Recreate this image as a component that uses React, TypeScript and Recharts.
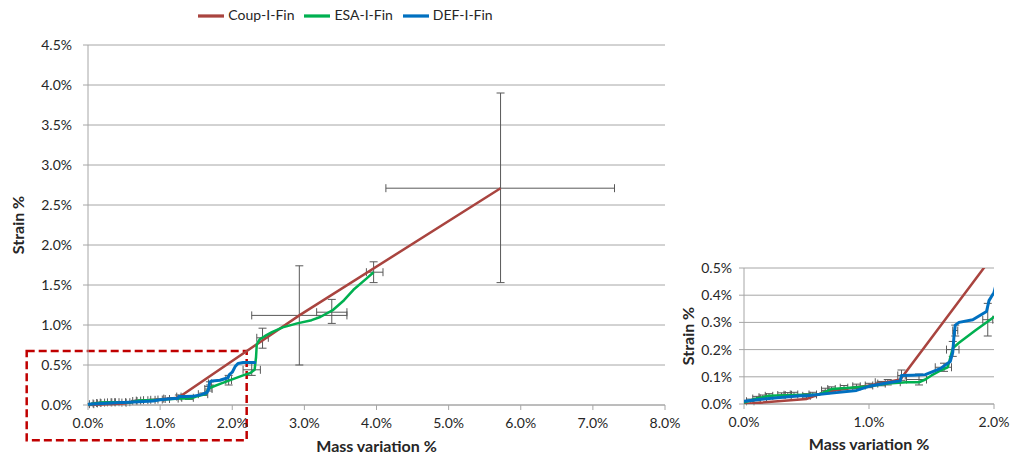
import { ScatterChart, Scatter, XAxis, YAxis, CartesianGrid, Legend, ErrorBar, ReferenceArea } from 'recharts';

// values are in percent (2.93 means 2.93 %)
const COUP_X = [0, 0.5, 0.65, 1.0, 1.25, 2.93, 5.72];
const COUP_Y = [0, 0.018, 0.045, 0.068, 0.09, 1.12, 2.71];

const ESA_X = [0, 0.1, 0.2, 0.4, 0.6, 0.7, 0.85, 1.0, 1.15, 1.3, 1.4, 1.45, 1.5, 1.58, 1.63, 1.65, 1.67, 1.72, 1.85, 2.0, 2.15, 2.25, 2.31, 2.33, 2.34, 2.38, 2.45, 2.55, 2.7, 2.9, 3.1, 3.22, 3.4, 3.55, 3.68, 3.86, 3.96];
const ESA_Y = [0.005, 0.02, 0.03, 0.033, 0.035, 0.055, 0.06, 0.065, 0.075, 0.08, 0.08, 0.09, 0.105, 0.125, 0.135, 0.17, 0.205, 0.225, 0.27, 0.32, 0.37, 0.4, 0.44, 0.6, 0.76, 0.82, 0.86, 0.91, 0.97, 1.02, 1.06, 1.1, 1.19, 1.31, 1.44, 1.58, 1.66];

const DEF_X = [0, 0.2, 0.45, 0.5, 0.7, 0.9, 1.0, 1.14, 1.25, 1.26, 1.35, 1.45, 1.57, 1.65, 1.67, 1.68, 1.69, 1.72, 1.83, 1.94, 1.96, 2.0, 2.04, 2.08, 2.15, 2.33];
const DEF_Y = [0.01, 0.02, 0.03, 0.03, 0.04, 0.05, 0.065, 0.077, 0.085, 0.105, 0.106, 0.108, 0.13, 0.156, 0.19, 0.25, 0.29, 0.3, 0.31, 0.34, 0.38, 0.41, 0.48, 0.52, 0.53, 0.53];

// error bars: [x, y, xLow, xHigh, yLow, yHigh]
const ERRORS: number[][] = [
  [2.93, 1.12, 0.66, 0.66, 0.62, 0.62],
  [5.72, 2.71, 1.59, 1.58, 1.18, 1.19],
  [3.38, 1.16, 0.21, 0.21, 0.14, 0.16],
  [3.96, 1.66, 0.1, 0.13, 0.13, 0.13],
  [2.42, 0.84, 0.08, 0.08, 0.13, 0.12],
  [2.27, 0.44, 0.12, 0.12, 0.07, 0.08],
  [1.95, 0.31, 0.04, 0.04, 0.06, 0.06],
  [1.67, 0.2, 0.05, 0.05, 0.025, 0.03],
  [1.69, 0.27, 0.02, 0.02, 0.02, 0.02],
  [1.6, 0.135, 0.07, 0.06, 0.015, 0.015],
  [1.4, 0.09, 0.1, 0.06, 0.02, 0.02],
  [1.26, 0.105, 0.03, 0.03, 0.018, 0.02],
  [1.15, 0.08, 0.1, 0.1, 0.01, 0.01],
  [0.05, 0.01, 0.03, 0.03, 0.008, 0.008],
  [0.1, 0.02, 0.03, 0.03, 0.008, 0.008],
  [0.15, 0.025, 0.03, 0.03, 0.008, 0.008],
  [0.2, 0.03, 0.03, 0.03, 0.008, 0.008],
  [0.3, 0.033, 0.03, 0.03, 0.008, 0.008],
  [0.35, 0.034, 0.03, 0.03, 0.008, 0.008],
  [0.4, 0.035, 0.03, 0.03, 0.008, 0.008],
  [0.5, 0.03, 0.03, 0.03, 0.008, 0.008],
  [0.55, 0.035, 0.03, 0.03, 0.008, 0.008],
  [0.65, 0.05, 0.03, 0.03, 0.008, 0.008],
  [0.7, 0.055, 0.03, 0.03, 0.008, 0.008],
  [0.8, 0.06, 0.03, 0.03, 0.008, 0.008],
  [0.9, 0.065, 0.03, 0.03, 0.008, 0.008],
  [1.0, 0.068, 0.03, 0.03, 0.008, 0.008],
  [1.1, 0.075, 0.03, 0.03, 0.008, 0.008],
];

const LEGEND_ORDER = ['Coup-I-Fin', 'ESA-I-Fin', 'DEF-I-Fin'];
const MAIN_X_TICKS = [0, 1, 2, 3, 4, 5, 6, 7, 8];
const MAIN_Y_TICKS = [0, 0.5, 1, 1.5, 2, 2.5, 3, 3.5, 4, 4.5];
const ZOOM_X_TICKS = [0, 1, 2];
const ZOOM_Y_TICKS = [0, 0.1, 0.2, 0.3, 0.4, 0.5];

// dashed box marking the zoomed region
const BOX_X = [-0.85, 2.2];
const BOX_Y = [-0.44, 0.675];

const RED = '#a9443f';
const GREEN = '#00b050';
const BLUE = '#0070c0';
const GRID = '#a6a6a6';
const TEXT = '#262626';
const FONT = 'Lato, "Open Sans", sans-serif';

const toPoints = (xs: number[], ys: number[]) => xs.map((x, i) => ({ x, y: ys[i] }));
const coup = toPoints(COUP_X, COUP_Y);
const esa = toPoints(ESA_X, ESA_Y);
const def = toPoints(DEF_X, DEF_Y);
const errs = ERRORS.map(([x, y, xl, xh, yl, yh]) => ({ x, y, ex: [xl, xh], ey: [yl, yh] }));
// error bars are not clipped, so the zoom only gets the ones inside its range
const zoomErrs = errs.filter((e) => e.x + e.ex[1] <= 2 && e.y + e.ey[1] <= 0.5);

const pct = (v: number) => `${v.toFixed(1)}%`;
const NoDot = () => <g />;

function renderSeries(errData: any[]) {
  return [
    <Scatter key="coup" name="Coup-I-Fin" data={coup} fill={RED} line={{ stroke: RED, strokeWidth: 2.5 }} lineType="joint" shape={NoDot} legendType="plainline" isAnimationActive={false} />,
    <Scatter key="esa" name="ESA-I-Fin" data={esa} fill={GREEN} line={{ stroke: GREEN, strokeWidth: 2.5, strokeLinejoin: 'round' }} lineType="joint" shape={NoDot} legendType="plainline" isAnimationActive={false} />,
    <Scatter key="def" name="DEF-I-Fin" data={def} fill={BLUE} line={{ stroke: BLUE, strokeWidth: 3, strokeLinejoin: 'round' }} lineType="joint" shape={NoDot} legendType="plainline" isAnimationActive={false} />,
    <Scatter key="err" name="err" data={errData} fill="#595959" shape={NoDot} legendType="none" isAnimationActive={false}>
      <ErrorBar dataKey="ex" direction="x" width={4} stroke="#595959" strokeWidth={1} isAnimationActive={false} />
      <ErrorBar dataKey="ey" direction="y" width={4} stroke="#595959" strokeWidth={1} isAnimationActive={false} />
    </Scatter>,
  ];
}

const tick = { fill: TEXT, fontSize: 14 };
const axisLabel = { fill: TEXT, fontSize: 16, fontWeight: 700 };

export default function App() {
  return (
    <div style={{ position: 'absolute', left: 0, top: 0, width: 1013, height: 456, background: '#fff', fontFamily: FONT }}>
      <div style={{ position: 'absolute', left: 0, top: 0 }}>
        <ScatterChart width={690} height={456} margin={{ top: 3, right: 25, bottom: 0, left: 0 }}>
          <CartesianGrid vertical={false} stroke={GRID} />
          <XAxis type="number" dataKey="x" domain={[0, 8]} ticks={MAIN_X_TICKS} tickFormatter={pct} tick={tick} tickSize={5} tickMargin={8} stroke={GRID} height={51}
            label={{ value: 'Mass variation %', position: 'insideBottom', offset: 4, style: axisLabel }} />
          <YAxis type="number" dataKey="y" domain={[0, 4.5]} ticks={MAIN_Y_TICKS} tickFormatter={pct} tick={tick} tickSize={5} tickMargin={11} stroke={GRID} width={88}
            label={{ value: 'Strain %', angle: -90, position: 'insideLeft', offset: 18, style: { ...axisLabel, textAnchor: 'middle' } }} />
          <Legend verticalAlign="top" height={42} iconSize={26} wrapperStyle={{ top: 3, left: 18, fontSize: 14 }}
            itemSorter={(item: any) => LEGEND_ORDER.indexOf(item.value)}
            formatter={(v) => <span style={{ color: TEXT }}>{v}</span>} />
          {renderSeries(errs)}
          <ReferenceArea x1={BOX_X[0]} x2={BOX_X[1]} y1={BOX_Y[0]} y2={BOX_Y[1]} ifOverflow="visible" fill="none" fillOpacity={0} stroke="#c00000" strokeWidth={2.5} strokeDasharray="8 4" />
        </ScatterChart>
      </div>
      <div style={{ position: 'absolute', left: 660, top: 250 }}>
        <ScatterChart width={353} height={206} margin={{ top: 18, right: 19, bottom: 0, left: 0 }}>
          <CartesianGrid vertical={false} stroke={GRID} />
          <XAxis type="number" dataKey="x" domain={[0, 2]} ticks={ZOOM_X_TICKS} tickFormatter={pct} tick={tick} tickSize={5} tickMargin={8} stroke={GRID} height={52} allowDataOverflow
            label={{ value: 'Mass variation %', position: 'insideBottom', offset: 6, style: axisLabel }} />
          <YAxis type="number" dataKey="y" domain={[0, 0.5]} ticks={ZOOM_Y_TICKS} tickFormatter={pct} tick={tick} tickSize={5} tickMargin={7} stroke={GRID} width={84} allowDataOverflow
            label={{ value: 'Strain %', angle: -90, position: 'insideLeft', offset: 28, style: { ...axisLabel, textAnchor: 'middle' } }} />
          {renderSeries(zoomErrs)}
        </ScatterChart>
      </div>
    </div>
  );
}
